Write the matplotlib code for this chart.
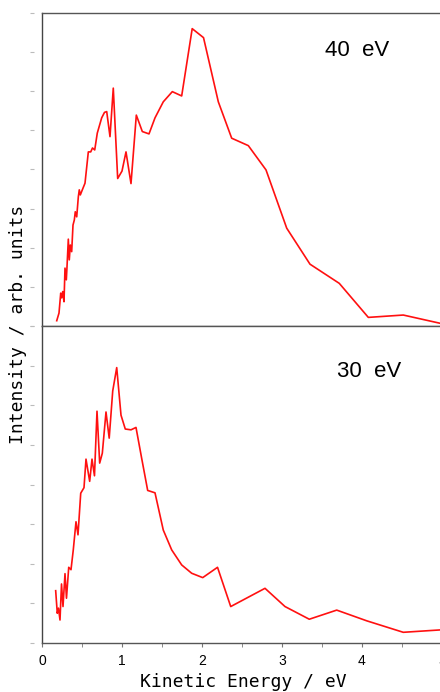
import matplotlib
matplotlib.use('Agg')
import matplotlib.pyplot as plt
from matplotlib.ticker import MultipleLocator

# 40 eV spectrum (top panel)
ke_40 = [0.184, 0.2125, 0.234, 0.246, 0.259, 0.275, 0.2875, 0.304, 0.3125, 0.329,
         0.341, 0.354, 0.371, 0.3875, 0.404, 0.416, 0.434, 0.454, 0.466, 0.479,
         0.504, 0.5375, 0.579, 0.609, 0.631, 0.659, 0.691, 0.746, 0.781, 0.809,
         0.85, 0.891, 0.946, 1.0, 1.05, 1.1125, 1.179, 1.254, 1.3375, 1.4125,
         1.516, 1.629, 1.746, 1.8775, 2.019, 2.204, 2.371, 2.579, 2.8, 3.059,
         3.35, 3.716, 4.079, 4.516, 4.975]
int_40 = [0.135, 0.33, 0.84, 0.72, 0.88, 0.62, 1.48, 1.18, 1.51, 2.22,
          1.69, 2.07, 1.90, 2.58, 2.71, 2.92, 2.79, 3.30, 3.48, 3.35,
          3.48, 3.65, 4.45, 4.45, 4.55, 4.50, 4.93, 5.32, 5.46, 5.48,
          4.84, 6.08, 3.77, 3.96, 4.45, 3.64, 5.39, 4.97, 4.91, 5.32,
          5.73, 5.99, 5.88, 7.60, 7.37, 5.73, 4.80, 4.61, 3.99, 2.50,
          1.58, 1.09, 0.22, 0.28, 0.07]

# 30 eV spectrum (bottom panel)
ke_30 = [0.171, 0.191, 0.206, 0.225, 0.244, 0.2625, 0.2875, 0.306, 0.334, 0.3625,
         0.391, 0.425, 0.45, 0.484, 0.525, 0.55, 0.596, 0.625, 0.656, 0.6875,
         0.721, 0.754, 0.8, 0.84, 0.884, 0.934, 0.9875, 1.041, 1.1125, 1.175,
         1.246, 1.321, 1.4125, 1.516, 1.621, 1.746, 1.871, 2.009, 2.194, 2.359,
         2.7875, 3.0375, 3.341, 3.684, 4.059, 4.516, 4.975]
int_30 = [1.32, 0.75, 0.88, 0.58, 1.49, 0.92, 1.75, 1.13, 1.91, 1.85,
          2.35, 3.06, 2.73, 3.78, 3.92, 4.64, 4.08, 4.64, 4.22, 5.85,
          4.54, 4.79, 5.83, 5.17, 6.36, 6.95, 5.75, 5.40, 5.38, 5.44,
          4.66, 3.85, 3.79, 2.85, 2.35, 1.97, 1.76, 1.65, 1.91, 0.92,
          1.38, 0.92, 0.60, 0.83, 0.56, 0.27, 0.33]

panels = [(ke_40, int_40, '40  eV', 3.94, 7.03),
          (ke_30, int_30, '30  eV', 4.09, 6.84)]

mono = ['DejaVu Sans Mono']
sans = ['Liberation Sans', 'DejaVu Sans']

fig = plt.figure(figsize=(4.4, 6.92), dpi=100)
# axes run 0..5 eV over 42..442 px, so the right edge is just off the picture
ax_top = fig.add_axes([42 / 440, 1 - 326 / 692, 400 / 440, (326 - 13) / 692])
ax_bot = fig.add_axes([42 / 440, 1 - 643 / 692, 400 / 440, (643 - 326) / 692])

for ax, (x, y, label, lx, ly) in zip([ax_top, ax_bot], panels):
    ax.plot(x, y, color='#ff1010', lw=1.2)
    ax.set_xlim(0, 5)
    ax.set_ylim(0, 8)
    ax.yaxis.set_major_locator(MultipleLocator(1))
    ax.tick_params(axis='y', direction='out', length=3, color='#bbbbbb',
                   labelleft=False)
    ax.spines['left'].set_position(('outward', 6))
    ax.spines['left'].set_visible(False)
    ax.axvline(0, color='#444444', lw=1.0, clip_on=False)
    ax.spines['right'].set_visible(False)
    for s in ['top', 'bottom']:
        ax.spines[s].set_color('#555555')
        ax.spines[s].set_linewidth(1.0)
    ax.text(lx, ly, label, ha='center', va='center', fontsize=16, family=sans)

ax_top.tick_params(axis='x', bottom=False, labelbottom=False)

ax_bot.xaxis.set_major_locator(MultipleLocator(1))
ax_bot.xaxis.set_minor_locator(MultipleLocator(0.5))
ax_bot.tick_params(axis='x', which='both', direction='out', length=3,
                   color='#777777', pad=5, labelsize=10)
for t in ax_bot.get_xticklabels():
    t.set_family(sans)

fig.text(18 / 440, 1 - 324 / 692, 'Intensity / arb. units', rotation=90,
         ha='center', va='center', fontsize=13, family=mono)
fig.text(243 / 440, 1 - 682 / 692, 'Kinetic Energy / eV',
         ha='center', va='center', fontsize=13, family=mono)

fig.savefig('out.png', dpi=100)
